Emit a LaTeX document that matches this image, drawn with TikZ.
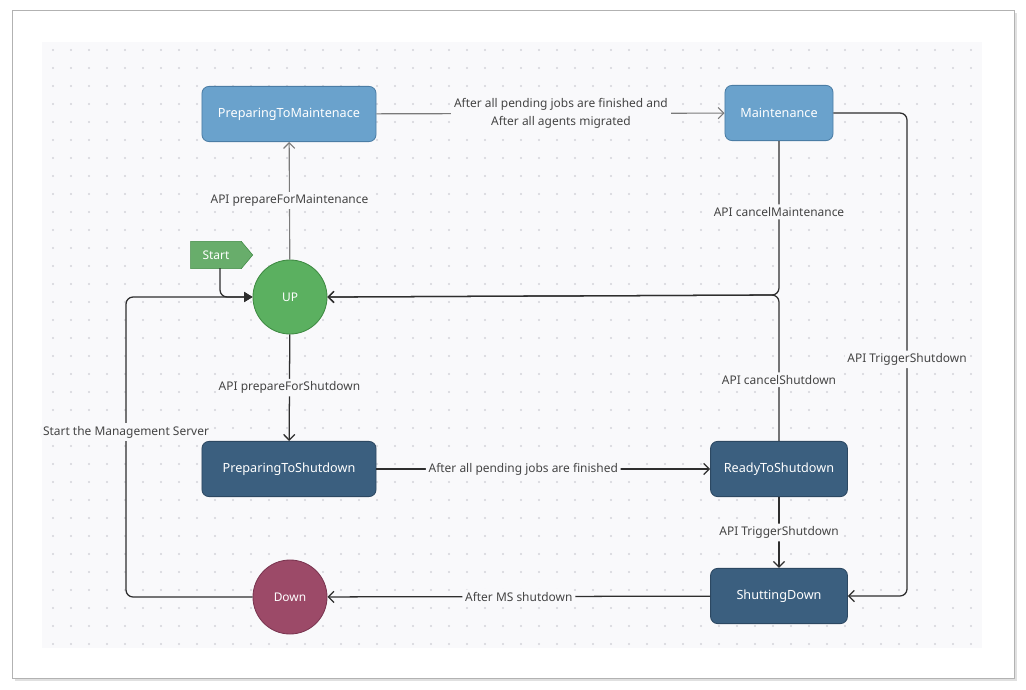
\documentclass[tikz,border=0pt]{standalone}
\usepackage{fontspec}
\setmainfont{Noto Sans}
\usetikzlibrary{arrows.meta,shapes.symbols,calc}
\definecolor{bgcol}{HTML}{F9F9FB}
\definecolor{dotcol}{HTML}{D4D4DA}
\definecolor{lightblue}{HTML}{6AA2CC}
\definecolor{lightblueb}{HTML}{4B7DA5}
\definecolor{darkblue}{HTML}{3B5F7F}
\definecolor{darkblueb}{HTML}{2C4862}
\definecolor{upgreen}{HTML}{5BB060}
\definecolor{upgreenb}{HTML}{3E8A42}
\definecolor{startgreen}{HTML}{68AD6B}
\definecolor{downred}{HTML}{9C4A68}
\definecolor{downredb}{HTML}{7A3550}
\definecolor{linegray}{HTML}{7A7A7A}
\definecolor{linedark}{HTML}{2E2E2E}
\definecolor{labelcol}{HTML}{444444}

\begin{document}
\begin{tikzpicture}[x=0.025cm, y=-0.025cm,
        state/.style={draw, rounded corners=5pt, text=white, line width=0.6pt,
            minimum height=1.38cm, font=\fontsize{9}{11}\selectfont},
        lightstate/.style={state, fill=lightblue, draw=lightblueb},
        darkstate/.style={state, fill=darkblue, draw=darkblueb},
        roundstate/.style={circle, draw, text=white, line width=0.6pt,
            minimum size=1.85cm, inner sep=0pt, font=\fontsize{8.5}{10}\selectfont},
        edgelabel/.style={fill=bgcol, text=labelcol, inner sep=2pt,
            font=\fontsize{8.5}{12.5}\selectfont, align=center},
        softedge/.style={draw=linegray, line width=0.8pt, -{Straight Barb[length=4pt,width=8pt]}},
        hardedge/.style={draw=linedark, line width=0.9pt, rounded corners=5pt,
            -{Straight Barb[length=4pt,width=8pt]}}]
    \useasboundingbox (0,0) rectangle (1026,690);
    % card and dotted canvas
    \fill [black!12] (15,13) rectangle (1017,681);
    \draw [fill=white, draw=black!30] (12,10) rectangle (1014,678);
    \fill [bgcol] (42,42) rectangle (982,648);
    \foreach \x in {53,71,...,980}
        \foreach \y in {50,68,...,645}
            \fill [dotcol] (\x,\y) circle (1.1);

    % states
    \node [lightstate, minimum width=4.35cm] (prepmaint) at (289,114) {PreparingToMaintenace};
    \node [lightstate, minimum width=2.7cm] (maint) at (779,113) {Maintenance};
    \node [roundstate, fill=upgreen, draw=upgreenb] (up) at (290,297) {UP};
    \node [signal, signal to=east, signal pointer angle=100, fill=startgreen,
        draw=upgreenb, text=white, minimum width=1.55cm, minimum height=0.68cm,
        inner sep=1pt, font=\fontsize{8.5}{10}\selectfont] (start) at (216,255) {Start\hspace{6pt}};
    \node [darkstate, minimum width=4.35cm] (prepshut) at (289,469) {PreparingToShutdown};
    \node [darkstate, minimum width=3.42cm] (ready) at (779,469) {ReadyToShutdown};
    \node [darkstate, minimum width=3.42cm] (shutting) at (779,596) {ShuttingDown};
    \node [roundstate, fill=downred, draw=downredb] (down) at (290,597) {Down};

    \coordinate (joinup) at (779,295);
    \coordinate (rightrail) at (907,113);
    \coordinate (leftrail) at (126,597);
    \coordinate (startfoot) at (220,268);

    % transitions
    \draw [softedge] (up) -- node [edgelabel] {API prepareForMaintenance} (prepmaint);
    \draw [softedge] (prepmaint) -- node [edgelabel, pos=0.53] {After all pending jobs are finished and\\After all agents migrated} (maint);
    \draw [hardedge] (maint.south) -- node [edgelabel, pos=0.46] {API cancelMaintenance} (joinup) -- (up.east);
    \draw [hardedge] (ready.north) -- node [edgelabel, pos=0.42] {API cancelShutdown} (joinup) -- (up.east);
    \draw [hardedge] (maint.east) -- (rightrail) -- node [edgelabel, pos=0.51] {API TriggerShutdown} (rightrail |- shutting.east) -- (shutting.east);
    \draw [hardedge] (up) -- node [edgelabel, pos=0.5] {API prepareForShutdown} (prepshut);
    \draw [hardedge] (prepshut) -- node [edgelabel, pos=0.44] {After all pending jobs are finished} (ready);
    \draw [hardedge] (ready) -- node [edgelabel] {API TriggerShutdown} (shutting);
    \draw [hardedge] (shutting) -- node [edgelabel] {After MS shutdown} (down);
    \draw [hardedge, -{Triangle[length=6pt,width=7pt]}] (down.west) -- (leftrail) -- node [edgelabel, pos=0.55] {Start the Management Server} (leftrail |- up.west) -- (up.west);
    \draw [hardedge, -{Triangle[length=6pt,width=7pt]}] (startfoot) |- (up.west);
\end{tikzpicture}
\end{document}
